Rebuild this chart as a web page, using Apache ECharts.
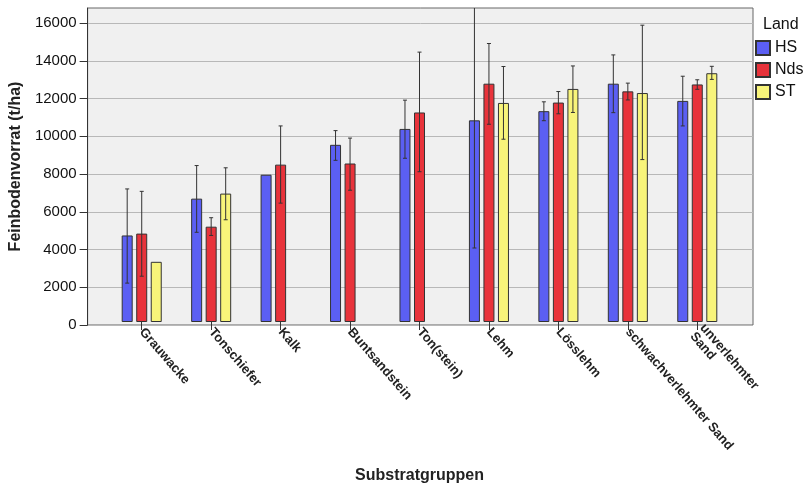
<!DOCTYPE html>
<html>
<head>
<meta charset="utf-8">
<script src="https://cdn.jsdelivr.net/npm/echarts@6/dist/echarts.min.js"></script>
<style>
  html, body { margin: 0; padding: 0; background: #fff; }
  #chart { width: 804px; height: 489px; }
</style>
</head>
<body>
<div id="chart"></div>
<script>
// Substratgruppen (x-Achse)
var categories = ['Grauwacke', 'Tonschiefer', 'Kalk', 'Buntsandstein', 'Ton(stein)', 'Lehm', 'Lösslehm', 'schwachverlehmter Sand', 'unverlehmter\nSand'];

// Mittelwerte Feinbodenvorrat (t/ha)
var hsValues  = [4630, 6600, 7880, 9480, 10330, 10790, 11280, 12750, 11830];
var ndsValues = [4730, 5100, 8420, 8480, 11210, 12750, 11740, 12340, 12710];
var stValues  = [3220, 6870, null, null, null, 11720, 12470, 12250, 13310];

// Fehlerbalken (untere / obere Grenze)
var hsLow   = [2080, 4800, null, 8650, 8760, 3960, 10770, 11200, 10490];
var hsHigh  = [7120, 8370, null, 10240, 11870, 17700, 11780, 14290, 13150];
var ndsLow  = [2450, 4630, 6360, 7050, 8040, 10580, 11140, 11880, 12450];
var ndsHigh = [6990, 5580, 10490, 9840, 14440, 14900, 12330, 12780, 12960];
var stLow   = [null, 5470, null, null, null, 9780, 11210, 8690, 12980];
var stHigh  = [null, 8250, null, null, null, 13670, 13700, 15880, 13680];

var yTicks = [0, 2000, 4000, 6000, 8000, 10000, 12000, 14000, 16000];

var font = 'Liberation Sans, Arial, sans-serif';
var barW = 11;
var barGapRatio = 0.32;

function errData(low, high) {
  var out = [];
  for (var i = 0; i < low.length; i++) {
    if (low[i] != null && high[i] != null) out.push([i, low[i], high[i]]);
  }
  return out;
}

function errSeries(name, low, high, pos) {
  return {
    name: name,
    type: 'custom',
    xAxisIndex: 1,
    yAxisIndex: 1,
    clip: true,
    z: 5,
    silent: true,
    data: errData(low, high),
    renderItem: function (params, api) {
      var off = pos * barW * (1 + barGapRatio);
      var lo = api.coord([api.value(0), api.value(1)]);
      var hi = api.coord([api.value(0), api.value(2)]);
      var x = lo[0] + off;
      var cap = 2;
      var style = { stroke: '#333', lineWidth: 1 };
      return {
        type: 'group',
        children: [
          { type: 'line', shape: { x1: x, y1: lo[1], x2: x, y2: hi[1] }, style: style },
          { type: 'line', shape: { x1: x - cap, y1: lo[1], x2: x + cap, y2: lo[1] }, style: style },
          { type: 'line', shape: { x1: x - cap, y1: hi[1], x2: x + cap, y2: hi[1] }, style: style }
        ]
      };
    }
  };
}

var chart = echarts.init(document.getElementById('chart'));

chart.setOption({
  backgroundColor: '#fff',
  animation: false,
  textStyle: { fontFamily: font },
  title: {
    text: 'Land',
    left: 758,
    top: 12,
    textStyle: { fontSize: 16, fontWeight: 'normal', color: '#111', fontFamily: font }
  },
  legend: {
    data: ['HS', 'Nds', 'ST'],
    orient: 'vertical',
    left: 755,
    top: 40,
    icon: 'rect',
    itemWidth: 14,
    itemHeight: 14,
    itemGap: 6,
    padding: 0,
    textStyle: { fontSize: 16, color: '#111', fontFamily: font }
  },
  grid: [
    { // Hintergrund / Rahmen
      left: 86, top: 8, width: 667, height: 317,
      show: true, backgroundColor: '#f0f0f0', borderColor: '#666', borderWidth: 1
    },
    { // Balken
      left: 107, top: 8, width: 625, height: 317
    }
  ],
  xAxis: [
    { gridIndex: 0, type: 'value', show: false },
    {
      gridIndex: 1,
      type: 'category',
      data: categories,
      name: 'Substratgruppen',
      nameLocation: 'middle',
      nameGap: 146,
      nameTextStyle: { fontSize: 16, fontWeight: 'bold', color: '#222', fontFamily: font },
      axisLine: { show: false },
      axisTick: { show: true, alignWithLabel: true, length: 8, lineStyle: { color: '#333' } },
      axisLabel: {
        interval: 0,
        rotate: -49,
        margin: 8,
        fontSize: 13,
        fontWeight: 'bold',
        color: '#222',
        fontFamily: font,
        lineHeight: 13
      }
    }
  ],
  yAxis: [
    {
      gridIndex: 0,
      type: 'value',
      min: 0,
      max: 16800,
      interval: 2000,
      name: 'Feinbodenvorrat (t/ha)',
      nameLocation: 'middle',
      nameGap: 60,
      nameTextStyle: { fontSize: 16, fontWeight: 'bold', color: '#222', fontFamily: font },
      axisLine: { show: true, lineStyle: { color: '#333' } },
      axisTick: { show: true, length: 8, lineStyle: { color: '#333' }, customValues: yTicks },
      axisLabel: {
        fontSize: 15, color: '#111', margin: 11, fontFamily: font,
        customValues: yTicks,
        formatter: function (v) { return String(v); }
      },
      splitLine: { show: true, lineStyle: { color: '#b8b8b8', width: 1 } }
    },
    { gridIndex: 1, type: 'value', min: 0, max: 16800, show: false }
  ],
  series: [
    {
      name: 'HS', type: 'bar', xAxisIndex: 1, yAxisIndex: 1,
      barWidth: barW, barGap: (barGapRatio * 100) + '%',
      itemStyle: { color: '#5b5ff3', borderColor: '#333', borderWidth: 1 },
      data: hsValues
    },
    {
      name: 'Nds', type: 'bar', xAxisIndex: 1, yAxisIndex: 1,
      barWidth: barW, barGap: (barGapRatio * 100) + '%',
      itemStyle: { color: '#e8333b', borderColor: '#333', borderWidth: 1 },
      data: ndsValues
    },
    {
      name: 'ST', type: 'bar', xAxisIndex: 1, yAxisIndex: 1,
      barWidth: barW, barGap: (barGapRatio * 100) + '%',
      itemStyle: { color: '#f8f47a', borderColor: '#333', borderWidth: 1 },
      data: stValues
    },
    errSeries('HS err', hsLow, hsHigh, -1),
    errSeries('Nds err', ndsLow, ndsHigh, 0),
    errSeries('ST err', stLow, stHigh, 1)
  ]
});
</script>
</body>
</html>
